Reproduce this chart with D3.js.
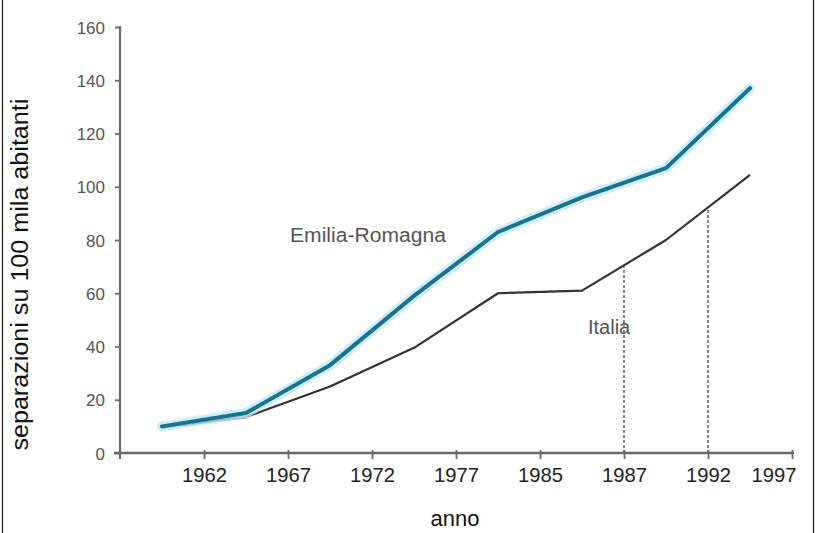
<!DOCTYPE html>
<html><head><meta charset="utf-8">
<script src="https://cdn.jsdelivr.net/npm/d3@7"></script>
<style>
html,body{margin:0;padding:0;background:#fff;}
svg{display:block;}
text{font-family:"Liberation Sans",Arial,Helvetica,sans-serif;}
</style></head>
<body>
<svg id="chart" width="816" height="533"></svg>
<script>
// ---- data ----
const yTicks = [0, 20, 40, 60, 80, 100, 120, 140, 160];
const xTickLabels = ["1962", "1967", "1972", "1977", "1985", "1987", "1992", "1997"];
const xTickPos = [1, 2, 3, 4, 5, 6, 7, 8];
const pointPos = [0.5, 1.5, 2.5, 3.5, 4.5, 5.5, 6.5, 7.5];
const emilia = [10, 15, 33, 59, 83, 96, 107, 137];
const italia = [9.5, 13.5, 25, 39.5, 60, 61, 80, 104.5];
const markerPos = [6, 7];          // 1987, 1992
const markerValues = [70, 92];     // Italia value at those years

// ---- layout ----
const svg = d3.select("#chart");
const x = d3.scaleLinear().domain([0, 8]).range([120, 792]);
const y = d3.scaleLinear().domain([0, 160]).range([453, 27]);

// frame side lines
svg.append("line").attr("x1", 2.5).attr("x2", 2.5).attr("y1", 0).attr("y2", 533)
  .attr("stroke", "#222").attr("stroke-width", 1.2);
svg.append("line").attr("x1", 813.5).attr("x2", 813.5).attr("y1", 0).attr("y2", 533)
  .attr("stroke", "#222").attr("stroke-width", 1.2);

// dashed markers
svg.selectAll(".marker").data(markerPos).enter().append("line")
  .attr("x1", d => x(d)).attr("x2", d => x(d))
  .attr("y1", y(0)).attr("y2", (d, i) => y(markerValues[i]))
  .attr("stroke", "#111").attr("stroke-width", 1).attr("stroke-dasharray", "3,2");

// axes
const axisColor = "#6a6a6a";
const gy = svg.append("g").attr("transform", `translate(${x(0)},0)`)
  .call(d3.axisLeft(y).tickValues(yTicks).tickSize(5).tickSizeOuter(0).tickPadding(10));
gy.select(".domain").remove();
gy.append("line").attr("x1", 0).attr("x2", 0).attr("y1", y(160) - 1).attr("y2", y(0) + 6)
  .attr("stroke", axisColor).attr("stroke-width", 2.2);
gy.selectAll(".tick line").attr("stroke", axisColor).attr("stroke-width", 1.8);
gy.selectAll(".tick text").attr("fill", "#555").style("font-size", "17px").attr("dy", "0.36em");

const gx = svg.append("g").attr("transform", `translate(0,${y(0)})`)
  .call(d3.axisBottom(x).tickValues(xTickPos).tickFormat((d, i) => xTickLabels[i]).tickSize(6).tickSizeOuter(0).tickPadding(9));
gx.select(".domain").remove();
gx.append("line").attr("x1", x(0) - 6).attr("x2", x(8) + 2).attr("y1", 0).attr("y2", 0)
  .attr("stroke", axisColor).attr("stroke-width", 2.6);
gx.selectAll(".tick line").attr("stroke", axisColor).attr("stroke-width", 1.8).attr("y1", -3);
gx.selectAll(".tick text").attr("fill", "#222").style("font-size", "20px")
  .attr("textLength", 45).attr("lengthAdjust", "spacingAndGlyphs");
// last label kept inside the frame
gx.selectAll(".tick text").filter((d, i, n) => i === n.length - 1)
  .attr("text-anchor", "end").attr("x", 4);

// lines
const lineGen = d3.line().x(d => x(d[0])).y(d => y(d[1]));
const emiliaPts = pointPos.map((p, i) => [p, emilia[i]]);
const italiaPts = pointPos.map((p, i) => [p, italia[i]]);

svg.append("path").datum(italiaPts).attr("d", lineGen)
  .attr("fill", "none").attr("stroke", "#333").attr("stroke-width", 2.2)
  .attr("stroke-linejoin", "round");

svg.append("path").datum(emiliaPts).attr("d", lineGen)
  .attr("fill", "none").attr("stroke", "#c4e7f4").attr("stroke-width", 10)
  .attr("stroke-linejoin", "round").attr("stroke-linecap", "round").attr("opacity", 0.8);
svg.append("path").datum(emiliaPts).attr("d", lineGen)
  .attr("fill", "none").attr("stroke", "#157590").attr("stroke-width", 4)
  .attr("stroke-linejoin", "round").attr("stroke-linecap", "round");

// series labels
svg.append("text").attr("x", 290).attr("y", y(82) + 7).attr("fill", "#555")
  .style("font-size", "20px").attr("textLength", 156).attr("lengthAdjust", "spacingAndGlyphs")
  .text("Emilia-Romagna");
svg.append("text").attr("x", 588).attr("y", y(47) + 6).attr("fill", "#555")
  .style("font-size", "20px").text("Italia");

// axis titles
svg.append("text").attr("x", 455).attr("y", 526).attr("text-anchor", "middle")
  .attr("fill", "#111").style("font-size", "22px").text("anno");
svg.append("text").attr("transform", `translate(28,${y(67)}) rotate(-90)`)
  .attr("text-anchor", "middle").attr("fill", "#111").style("font-size", "23px")
  .attr("textLength", 352).attr("lengthAdjust", "spacingAndGlyphs")
  .text("separazioni su 100 mila abitanti");
</script>
</body></html>
